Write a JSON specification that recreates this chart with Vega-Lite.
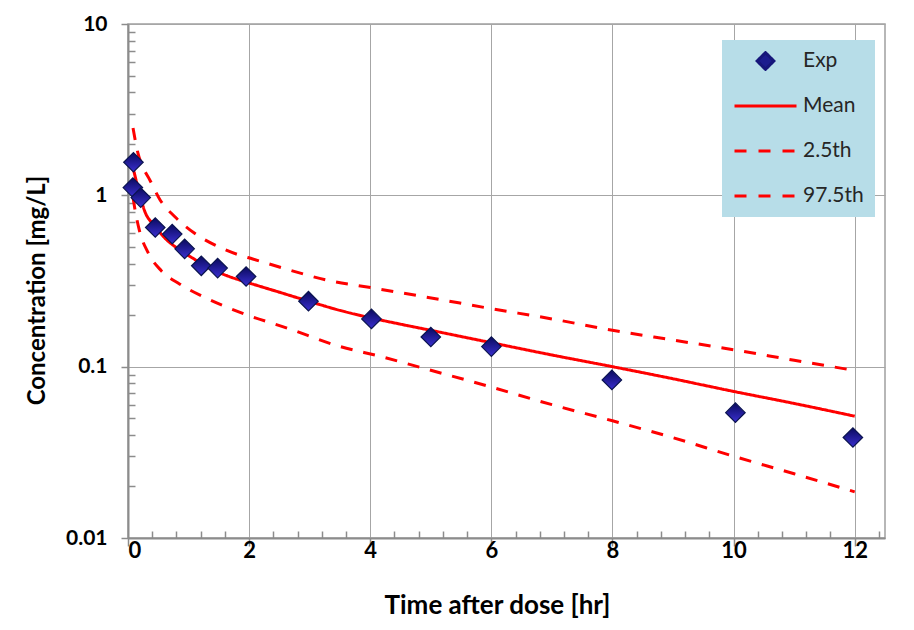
{
  "$schema": "https://vega.github.io/schema/vega-lite/v6.json",
  "width": 757,
  "height": 514,
  "autosize": "none",
  "padding": {"left": 128, "top": 24, "right": 29, "bottom": 92},
  "background": "white",
  "config": {"view": {"stroke": "#a0a0a0", "strokeWidth": 1.5}, "font": "Lato"},
  "datasets": {
    "obs": [
      {"t": 0.09, "c": 1.56}, {"t": 0.08, "c": 1.11}, {"t": 0.21, "c": 0.97},
      {"t": 0.45, "c": 0.649}, {"t": 0.73, "c": 0.594}, {"t": 0.935, "c": 0.487},
      {"t": 1.21, "c": 0.388}, {"t": 1.48, "c": 0.376}, {"t": 1.95, "c": 0.336},
      {"t": 2.98, "c": 0.241}, {"t": 4.02, "c": 0.19}, {"t": 5.0, "c": 0.149},
      {"t": 6.0, "c": 0.131}, {"t": 7.99, "c": 0.0837}, {"t": 10.03, "c": 0.0539},
      {"t": 11.97, "c": 0.0386}
    ],
    "curves": [
      {"series": "Mean", "t": 0.083, "c": 1.45}, {"series": "Mean", "t": 0.167, "c": 1.1},
      {"series": "Mean", "t": 0.275, "c": 0.81}, {"series": "Mean", "t": 0.45, "c": 0.66},
      {"series": "Mean", "t": 0.6, "c": 0.567}, {"series": "Mean", "t": 0.8, "c": 0.495},
      {"series": "Mean", "t": 1.05, "c": 0.434}, {"series": "Mean", "t": 1.35, "c": 0.375},
      {"series": "Mean", "t": 1.65, "c": 0.338}, {"series": "Mean", "t": 2.0, "c": 0.308},
      {"series": "Mean", "t": 2.5, "c": 0.272}, {"series": "Mean", "t": 3.0, "c": 0.24},
      {"series": "Mean", "t": 3.5, "c": 0.213}, {"series": "Mean", "t": 4.0, "c": 0.193},
      {"series": "Mean", "t": 4.5, "c": 0.177}, {"series": "Mean", "t": 5.0, "c": 0.163},
      {"series": "Mean", "t": 6.0, "c": 0.138}, {"series": "Mean", "t": 7.0, "c": 0.117},
      {"series": "Mean", "t": 8.0, "c": 0.1}, {"series": "Mean", "t": 9.0, "c": 0.085},
      {"series": "Mean", "t": 10.0, "c": 0.0717}, {"series": "Mean", "t": 11.0, "c": 0.061},
      {"series": "Mean", "t": 12.0, "c": 0.0514},
      {"series": "97.5th", "t": 0.083, "c": 2.47}, {"series": "97.5th", "t": 0.165, "c": 1.76},
      {"series": "97.5th", "t": 0.25, "c": 1.45}, {"series": "97.5th", "t": 0.36, "c": 1.23},
      {"series": "97.5th", "t": 0.53, "c": 0.94}, {"series": "97.5th", "t": 0.77, "c": 0.752},
      {"series": "97.5th", "t": 1.1, "c": 0.6}, {"series": "97.5th", "t": 1.43, "c": 0.514},
      {"series": "97.5th", "t": 1.82, "c": 0.45}, {"series": "97.5th", "t": 2.06, "c": 0.425},
      {"series": "97.5th", "t": 2.56, "c": 0.376}, {"series": "97.5th", "t": 3.27, "c": 0.321},
      {"series": "97.5th", "t": 4.04, "c": 0.288}, {"series": "97.5th", "t": 4.92, "c": 0.255},
      {"series": "97.5th", "t": 6.0, "c": 0.218}, {"series": "97.5th", "t": 7.0, "c": 0.19},
      {"series": "97.5th", "t": 8.0, "c": 0.163}, {"series": "97.5th", "t": 9.0, "c": 0.143},
      {"series": "97.5th", "t": 10.0, "c": 0.1256}, {"series": "97.5th", "t": 11.0, "c": 0.109},
      {"series": "97.5th", "t": 12.0, "c": 0.095},
      {"series": "2.5th", "t": 0.083, "c": 0.97}, {"series": "2.5th", "t": 0.11, "c": 0.847},
      {"series": "2.5th", "t": 0.19, "c": 0.62}, {"series": "2.5th", "t": 0.33, "c": 0.464},
      {"series": "2.5th", "t": 0.55, "c": 0.363}, {"series": "2.5th", "t": 0.85, "c": 0.304},
      {"series": "2.5th", "t": 1.26, "c": 0.254}, {"series": "2.5th", "t": 1.84, "c": 0.208},
      {"series": "2.5th", "t": 2.67, "c": 0.166}, {"series": "2.5th", "t": 3.44, "c": 0.133},
      {"series": "2.5th", "t": 4.2, "c": 0.114}, {"series": "2.5th", "t": 4.92, "c": 0.097},
      {"series": "2.5th", "t": 6.0, "c": 0.076}, {"series": "2.5th", "t": 7.0, "c": 0.06},
      {"series": "2.5th", "t": 8.0, "c": 0.0483}, {"series": "2.5th", "t": 9.0, "c": 0.0385},
      {"series": "2.5th", "t": 10.0, "c": 0.03}, {"series": "2.5th", "t": 11.0, "c": 0.0237},
      {"series": "2.5th", "t": 12.0, "c": 0.0186}
    ]
  },
  "layer": [
    {
      "data": {"name": "curves"},
      "mark": {"type": "line", "strokeWidth": 3, "interpolate": "monotone", "clip": true},
      "encoding": {
        "x": {
          "field": "t", "type": "quantitative",
          "scale": {"domain": [0, 12.5], "nice": false, "zero": false},
          "axis": {
            "orient": "bottom",
            "values": [0, 2, 4, 6, 8, 10, 12], "grid": true, "gridColor": "#a6a6a6", "gridWidth": 1,
            "domainColor": "#8c8c8c", "domainWidth": 2, "tickColor": "#8c8c8c", "tickSize": 8, "tickWidth": 1.5,
            "labelFont": "Lato", "labelFontSize": 22, "labelFontWeight": "bold", "labelColor": "#000000",
            "labelPadding": -6, "title": "Time after dose [hr]", "titleFont": "Lato", "titleFontSize": 26,
            "titleFontWeight": "bold", "titleColor": "#000000", "titlePadding": 31, "titleX": 369
          }
        },
        "y": {
          "field": "c", "type": "quantitative",
          "scale": {"type": "log", "domain": [0.01, 10], "nice": false},
          "axis": {
            "orient": "left",
            "values": [0.01, 0.1, 1, 10], "format": ".2~f", "grid": true, "gridColor": "#a6a6a6", "gridWidth": 1,
            "domainColor": "#8c8c8c", "domainWidth": 2, "tickColor": "#8c8c8c", "tickSize": 7, "tickWidth": 1.5,
            "labelFont": "Lato", "labelFontSize": 21, "labelFontWeight": "bold", "labelColor": "#000000",
            "labelPadding": 14, "title": "Concentration [mg/L]", "titleFont": "Lato", "titleFontSize": 24,
            "titleFontWeight": "bold", "titleColor": "#000000", "titlePadding": 16, "titleY": 266
          }
        },
        "color": {
          "field": "series", "type": "nominal",
          "scale": {"domain": ["Exp", "Mean", "2.5th", "97.5th"], "range": ["#16167a", "#ff0000", "#ff0000", "#ff0000"]},
          "legend": {
            "orient": "none", "legendX": 594, "legendY": 16, "title": null,
            "fillColor": "#b7dde8", "padding": 11, "symbolType": "stroke", "symbolSize": 3844,
            "symbolStrokeWidth": 3, "clipHeight": 20, "rowPadding": 24, "labelOffset": 5,
            "labelFont": "Lato", "labelFontSize": 21, "labelColor": "#262626",
            "encode": {
              "symbols": {
                "update": {
                  "shape": {"signal": "datum.value === 'Exp' ? 'M-0.27,0L0,-0.27L0.27,0L0,0.27Z' : 'stroke'"},
                  "fill": {"signal": "datum.value === 'Exp' ? '#1c1c8e' : 'transparent'"},
                  "stroke": {"signal": "datum.value === 'Exp' ? 'transparent' : '#ff0000'"},
                  "strokeDash": {"signal": "(datum.value === 'Exp' || datum.value === 'Mean') ? [1, 0] : [12, 12]"}
                }
              }
            }
          }
        },
        "strokeDash": {
          "field": "series", "type": "nominal",
          "scale": {"domain": ["Mean", "2.5th", "97.5th"], "range": [[1, 0], [12, 11], [12, 11]]},
          "legend": null
        }
      }
    },
    {
      "data": {"name": "obs"},
      "mark": {
        "type": "point", "shape": "diamond", "filled": true, "size": 380, "opacity": 1,
        "fill": {"gradient": "linear", "x1": 0, "y1": 0, "x2": 0, "y2": 1,
                 "stops": [{"offset": 0, "color": "#0a0a5e"}, {"offset": 1, "color": "#3a2fd0"}]},
        "stroke": "#0b1450", "strokeWidth": 1.2
      },
      "encoding": {
        "x": {
          "field": "t", "type": "quantitative",
          "axis": {
            "orient": "bottom", "values": [0.4, 0.8, 1.2, 1.6, 2.4, 2.8, 3.2, 3.6, 4.4, 4.8, 5.2, 5.6, 6.4, 6.8, 7.2, 7.6, 8.4, 8.8, 9.2, 9.6, 10.4, 10.8, 11.2, 11.6, 12.4],
            "tickSize": -7, "tickColor": "#8c8c8c", "tickWidth": 1.5, "labels": false, "domain": false, "grid": false, "title": null
          }
        },
        "y": {
          "field": "c", "type": "quantitative",
          "axis": {
            "orient": "left", "values": [0.02, 0.03, 0.04, 0.05, 0.06, 0.07, 0.08, 0.09, 0.2, 0.3, 0.4, 0.5, 0.6, 0.7, 0.8, 0.9, 2, 3, 4, 5, 6, 7, 8, 9],
            "tickSize": -7, "tickColor": "#8c8c8c", "tickWidth": 1.5, "labels": false, "domain": false, "grid": false, "title": null
          }
        }
      }
    }
  ],
  "resolve": {"axis": {"x": "independent", "y": "independent"}}
}
